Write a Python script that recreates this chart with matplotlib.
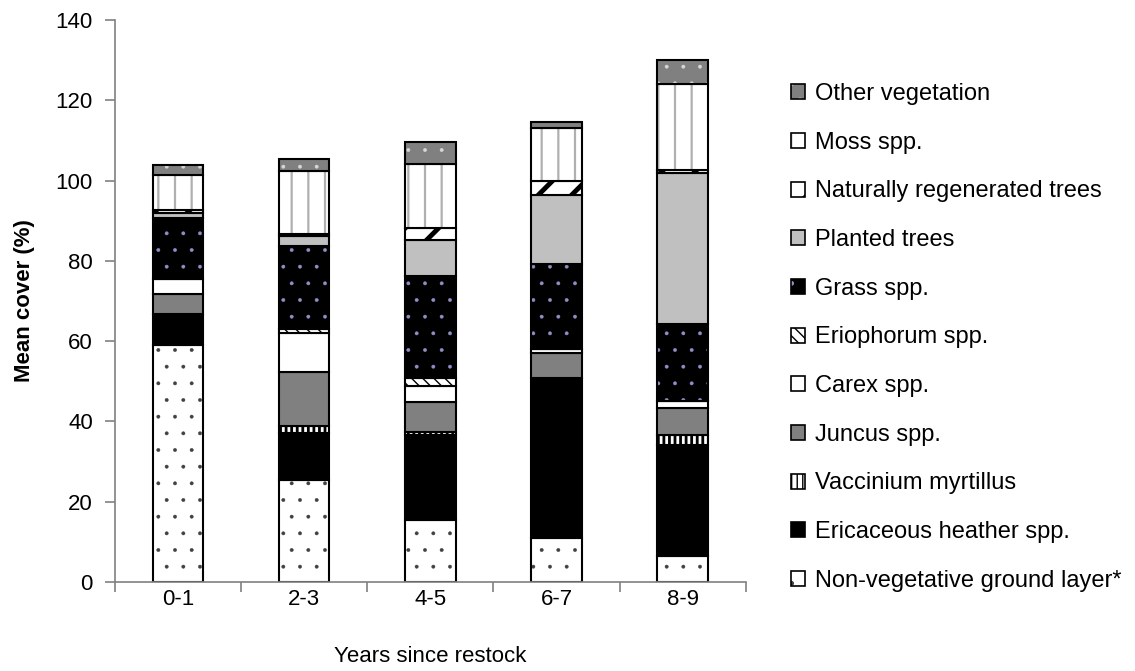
import numpy as np
import matplotlib
matplotlib.use('Agg')
import matplotlib.pyplot as plt
from matplotlib.patches import Patch
from matplotlib.legend_handler import HandlerTuple

years = ['0-1', '2-3', '4-5', '6-7', '8-9']

# segments, bottom to top
non_veg = [59.0, 25.4, 15.4, 10.9, 6.3]
ericaceous = [7.8, 11.7, 21.3, 39.8, 27.9]
vaccinium = [0.0, 1.8, 0.7, 0.0, 2.5]
juncus = [5.0, 13.5, 7.4, 6.2, 6.6]
carex = [3.6, 9.5, 3.9, 1.1, 1.7]
eriophorum = [0.0, 1.0, 2.1, 0.0, 0.0]
grass = [15.4, 20.7, 25.4, 21.2, 19.2]
planted = [1.0, 2.6, 9.1, 17.2, 37.8]
nat_regen = [0.8, 0.4, 2.9, 3.6, 0.7]
moss = [8.8, 15.7, 16.0, 13.0, 21.3]
other = [2.4, 3.2, 5.5, 1.7, 6.0]

labels = ['Non-vegetative ground layer*', 'Ericaceous heather spp.', 'Vaccinium myrtillus',
          'Juncus spp.', 'Carex spp.', 'Eriophorum spp.', 'Grass spp.', 'Planted trees',
          'Naturally regenerated trees', 'Moss spp.', 'Other vegetation']
series = [non_veg, ericaceous, vaccinium, juncus, carex, eriophorum, grass, planted,
          nat_regen, moss, other]

# (face, hatch, hatch colour, hatch width)
styles = [('white', '.', '#404040', 0.3),
          ('black', '', 'black', 1.0),
          ('white', '|||', 'black', 2.0),
          ('#808080', '', 'black', 1.0),
          ('white', '', 'black', 1.0),
          ('white', '\\\\\\', 'black', 1.0),
          ('black', '.', '#9090c8', 0.3),
          ('#c0c0c0', '', 'black', 1.0),
          ('white', '/', 'black', 3.5),
          ('white', '|', '#b0b0b0', 1.6),
          ('#808080', '.', '#d8d8d8', 0.3)]

plt.rcParams['font.family'] = ['Liberation Sans', 'DejaVu Sans']

fig = plt.figure(figsize=(11.35, 6.71), dpi=100)
ax = fig.add_axes([0.1013, 0.133, 0.5557, 0.837])

x = np.arange(len(years))
width = 0.4
bottom = np.zeros(len(years))
handles = []
for vals, lab, (fc, hatch, hc, hw) in zip(series, labels, styles):
    vals = np.array(vals)
    with plt.rc_context({'hatch.linewidth': hw}):
        fill = ax.bar(x, vals, width, bottom=bottom, color=fc, hatch=hatch,
                      edgecolor=hc, linewidth=0)
        h_fill = Patch(facecolor=fc, hatch=hatch, edgecolor=hc, linewidth=0)
    ax.bar(x, vals, width, bottom=bottom, fill=False, edgecolor='black', linewidth=1.5)
    h_line = Patch(fill=False, edgecolor='black', linewidth=1.2)
    handles.append((h_fill, h_line))
    bottom += vals

ax.set_xlim(-0.5, len(years) - 0.5)
ax.set_ylim(0, 140)
ax.set_yticks(np.arange(0, 141, 20))
ax.set_xticks(x)
ax.set_xticklabels(years)
ax.set_xticks(np.arange(-0.5, len(years), 1), minor=True)
ax.tick_params(axis='x', which='major', length=0, pad=5, labelsize=16)
ax.tick_params(axis='x', which='minor', length=7, direction='out', color='#808080', width=1.2)
ax.tick_params(axis='y', length=7, direction='out', color='#808080', width=1.2, pad=9, labelsize=16)
for s in ['top', 'right']:
    ax.spines[s].set_visible(False)
for s in ['left', 'bottom']:
    ax.spines[s].set_color('#808080')
    ax.spines[s].set_linewidth(1.2)

ax.set_ylabel('Mean cover (%)', fontsize=16, fontweight='bold', labelpad=15)
ax.set_xlabel('Years since restock', fontsize=16, labelpad=26)

leg = ax.legend(handles[::-1], labels[::-1], handler_map={tuple: HandlerTuple(ndivide=1)},
                loc='center left', bbox_to_anchor=(1.038, 0.435), frameon=False, fontsize=17,
                handlelength=0.6, handleheight=0.6, handletextpad=0.4, labelspacing=1.13)

fig.savefig('out.png', dpi=100)
